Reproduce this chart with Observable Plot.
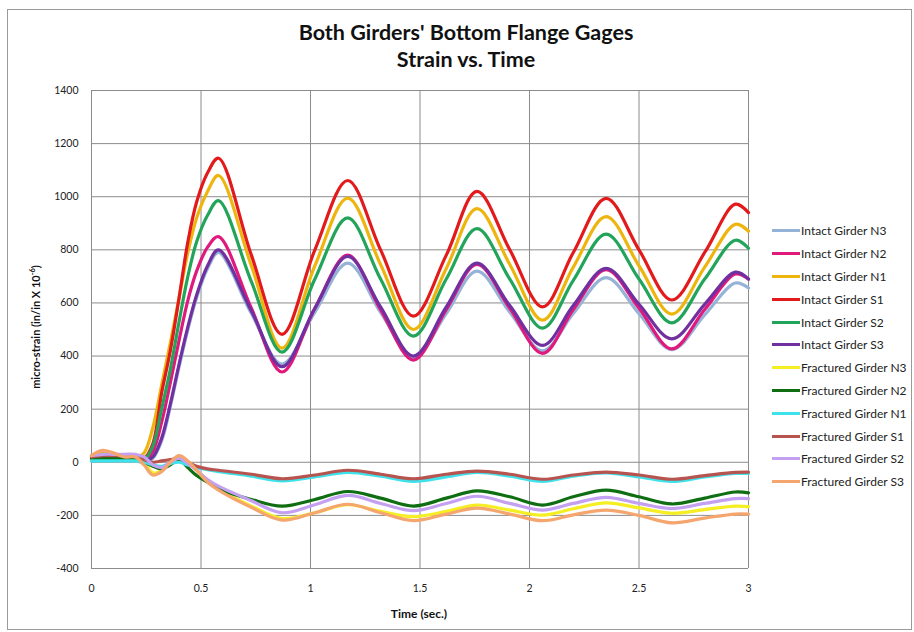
<!DOCTYPE html>
<html><head><meta charset="utf-8">
<script src="https://cdn.jsdelivr.net/npm/d3@7"></script>
<script src="https://cdn.jsdelivr.net/npm/@observablehq/plot@0.6"></script>
<style>
body{margin:0;background:#fff;font-family:Lato,"Open Sans",sans-serif;}
#frame{position:absolute;left:7px;top:9px;width:905px;height:621px;border:1px solid #9a9a9a;box-sizing:border-box;}
#title{position:absolute;left:0;top:19px;width:932px;text-align:center;font-weight:bold;font-size:21.5px;line-height:27px;color:#111;}
#chart{position:absolute;left:0;top:80px;}
#legend{position:absolute;left:772px;top:219.6px;font-size:12px;color:#222;}
.item{height:22.8px;display:flex;align-items:center;white-space:nowrap;}
.sw{width:28px;height:3px;margin-right:1px;}
#ylab{position:absolute;left:35px;top:327px;transform:translate(-50%,-50%) rotate(-90deg);font-weight:bold;font-size:11px;white-space:nowrap;color:#111;}
#xlab{position:absolute;left:419px;top:613px;transform:translate(-50%,-50%);font-weight:bold;font-size:12px;white-space:nowrap;color:#111;}
</style></head>
<body>
<div id="frame"></div>
<div id="title">Both Girders' Bottom Flange Gages<br>Strain vs. Time</div>
<div id="chart"></div>
<div id="ylab">micro-strain (in/in X 10<sup style="font-size:7.5px">-6</sup>)</div>
<div id="xlab">Time (sec.)</div>
<div id="legend"></div>
<script>
const times = [0, 0.05, 0.1, 0.15, 0.2, 0.24, 0.28, 0.32, 0.36, 0.40, 0.44, 0.48, 0.53, 0.58, 0.73, 0.87, 1.02, 1.17, 1.32, 1.47, 1.62, 1.76, 1.91, 2.06, 2.20, 2.35, 2.50, 2.65, 2.80, 2.94, 3.0];
const xTicks = [0, 0.5, 1, 1.5, 2, 2.5, 3];
const yTicks = [-400, -200, 0, 200, 400, 600, 800, 1000, 1200, 1400];

const intactN3 = [5, 8, 8, 8, 5, 0, 15, 80, 210, 360, 500, 620, 730, 790, 560, 370, 565, 750, 565, 395, 560, 720, 565, 420, 560, 695, 560, 424, 555, 675, 656];
const intactN2 = [15, 18, 18, 18, 15, 5, 40, 150, 300, 460, 610, 720, 810, 850, 580, 340, 580, 780, 575, 385, 575, 745, 580, 410, 575, 725, 580, 427, 575, 709, 690];
const intactN1 = [20, 40, 35, 18, 15, 35, 130, 290, 450, 620, 790, 920, 1020, 1080, 740, 430, 740, 995, 745, 500, 730, 955, 745, 535, 735, 925, 740, 558, 735, 896, 870];
const intactS1 = [10, 15, 15, 15, 15, 15, 70, 260, 420, 620, 830, 980, 1090, 1145, 780, 482, 800, 1061, 800, 550, 780, 1020, 800, 585, 790, 994, 800, 611, 790, 972, 940];
const intactS2 = [15, 20, 20, 20, 15, 10, 60, 200, 350, 530, 700, 830, 930, 985, 680, 415, 690, 920, 690, 475, 690, 880, 690, 505, 685, 859, 690, 525, 690, 836, 806];
const intactS3 = [20, 25, 25, 25, 20, 5, 20, 90, 220, 370, 510, 630, 740, 800, 570, 360, 580, 775, 585, 400, 585, 750, 590, 440, 590, 730, 595, 465, 595, 716, 690];
const fracN3 = [15, 20, 20, 18, 15, 0, -40, -30, 0, 20, 0, -30, -70, -100, -165, -212, -190, -160, -185, -205, -185, -161, -180, -199, -175, -153, -172, -192, -178, -165, -167];
const fracN2 = [15, 15, 15, 15, 15, 0, -15, -25, -10, 10, -20, -50, -75, -100, -140, -165, -140, -110, -135, -165, -135, -108, -130, -161, -130, -105, -130, -157, -135, -112, -115];
const fracN1 = [5, 5, 5, 5, 5, 0, -10, -15, -5, 0, -10, -20, -28, -35, -52, -70, -55, -38, -52, -72, -55, -38, -52, -72, -52, -40, -55, -72, -55, -42, -42];
const fracS1 = [20, 25, 25, 25, 25, 10, 0, 5, 10, 15, 0, -15, -25, -30, -45, -62, -48, -30, -45, -62, -45, -33, -45, -64, -48, -37, -48, -64, -50, -38, -37];
const fracS2 = [25, 30, 30, 30, 30, 20, -10, -20, 0, 15, -5, -30, -65, -90, -145, -190, -160, -125, -155, -182, -155, -128, -155, -180, -155, -132, -155, -174, -155, -137, -137];
const fracS3 = [25, 45, 35, 20, 20, -10, -48, -35, 0, 25, 5, -30, -75, -105, -170, -218, -190, -158, -190, -220, -195, -173, -195, -220, -198, -180, -200, -228, -210, -195, -195];

const seriesNames = ["Intact Girder N3","Intact Girder N2","Intact Girder N1","Intact Girder S1","Intact Girder S2","Intact Girder S3",
  "Fractured Girder N3","Fractured Girder N2","Fractured Girder N1","Fractured Girder S1","Fractured Girder S2","Fractured Girder S3"];
const seriesValues = [intactN3, intactN2, intactN1, intactS1, intactS2, intactS3, fracN3, fracN2, fracN1, fracS1, fracS2, fracS3];
const seriesColors = ["#95B3D7","#E0197D","#EDB50E","#E31A1C","#22A45A","#7030A0",
  "#F5EE22","#0F6E12","#3EE2EA","#B85450","#C4A0F0","#F5A56E"];

const lines = seriesNames.map((name, i) => {
  const rows = times.map((t, j) => ({t, v: seriesValues[i][j], series: name}));
  return Plot.line(rows, {x: "t", y: "v", stroke: seriesColors[i], strokeWidth: 3.2, curve: "catmull-rom"});
});

const plot = Plot.plot({
  width: 760, height: 545,
  marginLeft: 91, marginRight: 12, marginTop: 10, marginBottom: 57,
  style: {fontFamily: "Lato, sans-serif", fontSize: "10.5px", color: "#222", background: "transparent"},
  x: {domain: [0, 3]},
  y: {domain: [-400, 1400]},
  marks: [
    Plot.gridX(xTicks, {stroke: "#8c8c8c", strokeOpacity: 1}),
    Plot.gridY(yTicks, {stroke: "#8c8c8c", strokeOpacity: 1}),
    Plot.axisX(xTicks, {tickSize: 0, tickPadding: 16, label: null, tickFormat: d => String(d)}),
    Plot.axisY(yTicks, {tickSize: 0, tickPadding: 13, label: null, tickFormat: d => String(d)}),
    ...lines
  ]
});
document.getElementById("chart").appendChild(plot);

const legend = document.getElementById("legend");
seriesNames.forEach((name, i) => {
  const item = document.createElement("div");
  item.className = "item";
  const sw = document.createElement("span");
  sw.className = "sw";
  sw.style.background = seriesColors[i];
  const label = document.createElement("span");
  label.textContent = name;
  item.appendChild(sw); item.appendChild(label);
  legend.appendChild(item);
});
</script>
</body></html>
